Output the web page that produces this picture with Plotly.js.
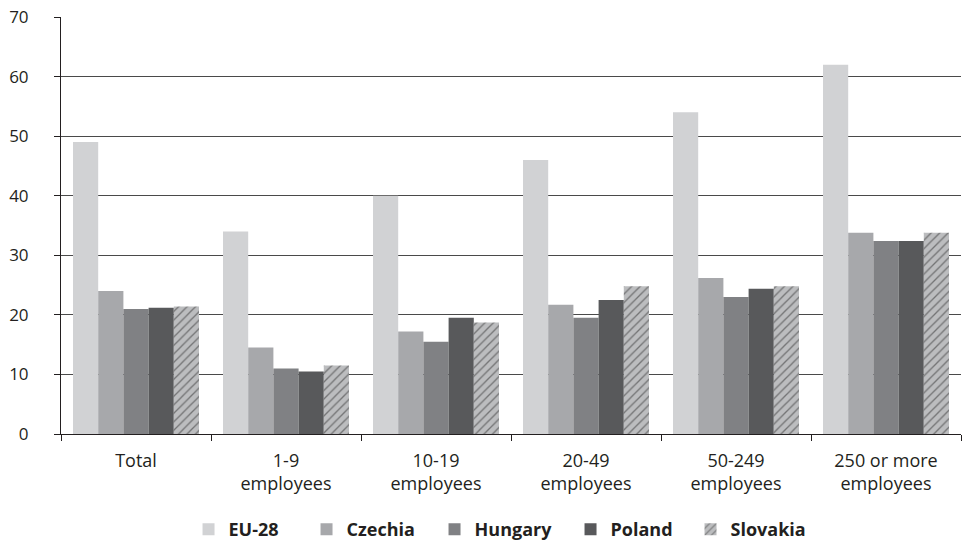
<!DOCTYPE html>
<html>
<head>
<meta charset="utf-8">
<script src="https://cdn.plot.ly/plotly-3.0.1.min.js"></script>
<style>html,body{margin:0;padding:0;background:#fff;}#chart{width:966px;height:544px;}</style>
</head>
<body>
<div id="chart"></div>
<script>
const categories = ["Total", "1-9<br>employees", "10-19<br>employees", "20-49<br>employees", "50-249<br>employees", "250 or more<br>employees"];
const seriesNames = ["EU-28", "Czechia", "Hungary", "Poland", "Slovakia"];
const eu28 = [49, 34, 40, 46, 54, 62];
const czechia = [24, 14.5, 17.2, 21.7, 26.2, 33.8];
const hungary = [21, 11, 15.5, 19.5, 23, 32.4];
const poland = [21.2, 10.5, 19.5, 22.5, 24.4, 32.4];
const slovakia = [21.4, 11.5, 18.7, 24.8, 24.8, 33.8];
const yTicks = [0, 10, 20, 30, 40, 50, 60, 70];

const values = [eu28, czechia, hungary, poland, slovakia];
const colors = ["#d1d2d4", "#a7a8ab", "#808184", "#58595b", "#bcbdbf"];
const legendWidths = [73, 83, 91, 75, 75];

const traces = values.map((v, i) => {
  const t = {
    type: "bar",
    name: seriesNames[i],
    x: categories,
    y: v,
    legendwidth: legendWidths[i],
    marker: {color: colors[i], line: {width: 0}}
  };
  if (i === 4) {
    t.marker.pattern = {shape: "/", fillmode: "overlay", fgcolor: "#2a2a2a", size: 6, solidity: 0.22};
  }
  return t;
});

const layout = {
  width: 966, height: 544,
  margin: {l: 61, r: 5, t: 17, b: 110, autoexpand: false},
  paper_bgcolor: "#fff", plot_bgcolor: "#fff",
  font: {family: "'Open Sans', sans-serif", size: 17, color: "#231f20"},
  barmode: "group",
  bargap: 0.16,
  bargroupgap: 0,
  showlegend: true,
  legend: {orientation: "h", x: 0.1417, xanchor: "left", y: -0.185, yanchor: "top",
           bgcolor: "rgba(0,0,0,0)",
           font: {size: 18, color: "#231f20", weight: "bold"}, itemwidth: 30, tracegroupgap: 0},
  xaxis: {
    type: "category", tickson: "boundaries", ticks: "outside", ticklen: 6, tickcolor: "#231f20",
    ticklabelstandoff: 10,
    showline: true, linecolor: "#231f20", linewidth: 1, showgrid: false,
    tickfont: {size: 18}, fixedrange: true
  },
  yaxis: {
    range: [0, 70], tickvals: yTicks, ticktext: yTicks.map(String),
    ticks: "outside", ticklen: 6, tickcolor: "#231f20", ticklabelstandoff: 22,
    showline: true, linecolor: "#231f20", linewidth: 1,
    showgrid: true, gridcolor: "#4a4a4a", gridwidth: 1, zeroline: false,
    tickfont: {size: 17}
  }
};

Plotly.newPlot("chart", traces, layout, {staticPlot: true, displayModeBar: false});
</script>
</body>
</html>
